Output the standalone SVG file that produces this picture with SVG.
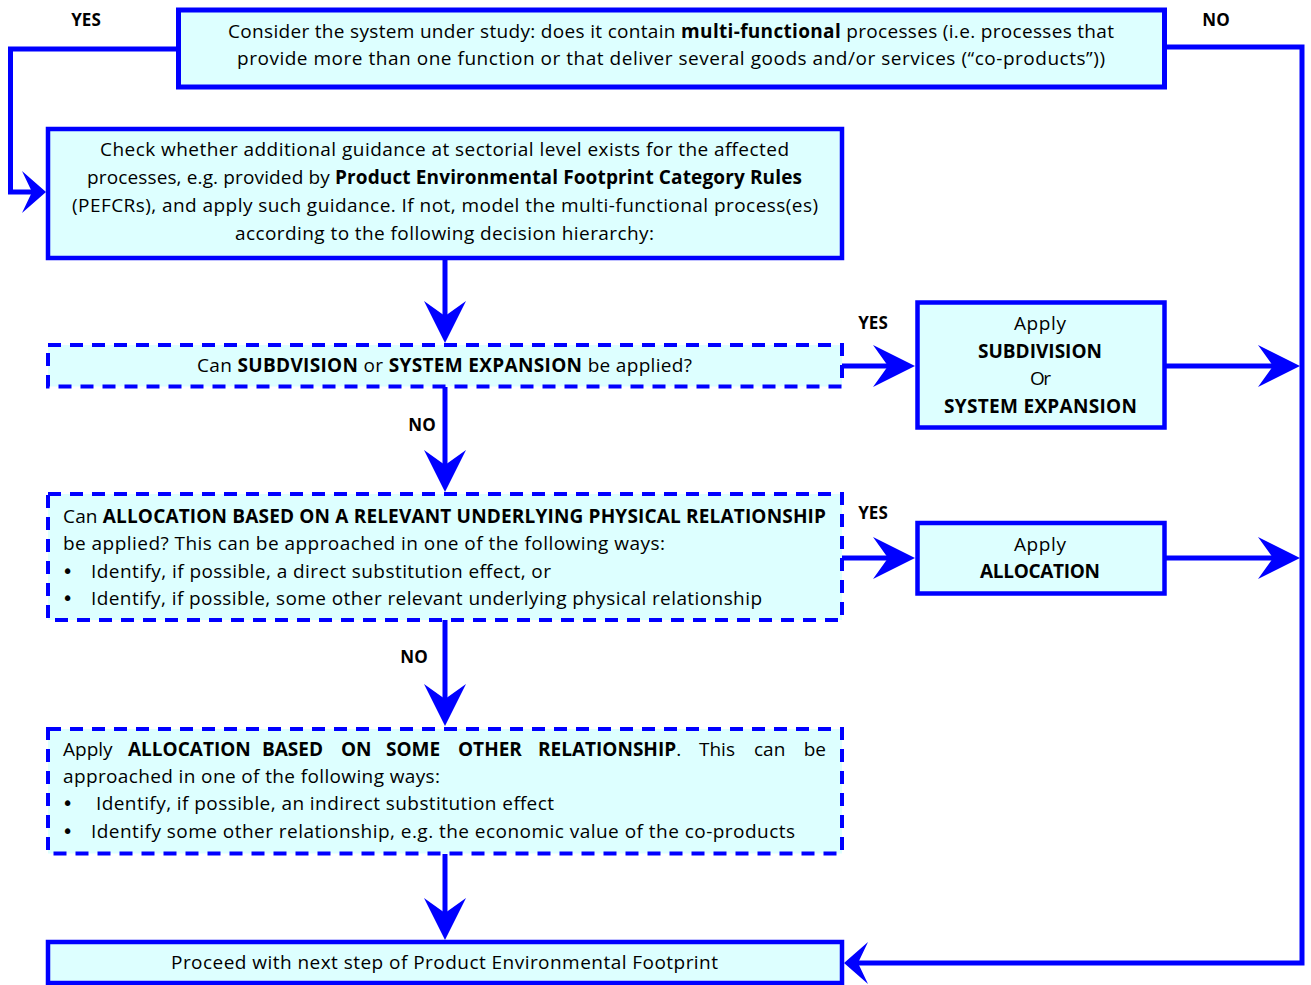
<svg xmlns="http://www.w3.org/2000/svg" width="1311" height="985" viewBox="0 0 1311 985">
<style>
.box{fill:#ddffff;stroke:#0000ff;stroke-width:4.5}
.b1{stroke-width:5}
.dash{fill:#ddffff;stroke:#0000ff;stroke-width:4;stroke-dasharray:13 9}
.t{font-family:"Open Sans","Noto Sans",sans-serif;font-size:19px;fill:#000}
.b{font-weight:bold}
.bul{font-family:"DejaVu Sans",sans-serif;font-size:19px;fill:#000}
.lbl{font-family:"Open Sans","Noto Sans",sans-serif;font-size:17px;font-weight:bold;fill:#000;text-anchor:middle}
.c{fill:none;stroke:#0000ff;stroke-width:5}
.cl{marker-end:url(#al)}
.cs{marker-end:url(#as)}
</style>
<defs>
<marker id="al" markerUnits="userSpaceOnUse" markerWidth="44" markerHeight="44" viewBox="0 -22 42 44" refX="15" refY="0" orient="auto" overflow="visible">
<path d="M0,-21 L42,0 L0,21 L15,0 Z" fill="#0000ff"/>
</marker>
<marker id="as" markerUnits="userSpaceOnUse" markerWidth="26" markerHeight="44" viewBox="0 -22 24 44" refX="10" refY="0" orient="auto" overflow="visible">
<path d="M0,-21 L24,0 L0,21 L10,0 Z" fill="#0000ff"/>
</marker>
</defs>

<g id="connectors">
<polyline class="c cs" points="178,49 10.5,49 10.5,192 32,192"/>
<polyline class="c cs" points="1165,47 1302,47 1302,963 858,963"/>
<line class="c cl" x1="445" y1="258" x2="445" y2="316"/>
<line class="c cl" x1="842" y1="366" x2="888" y2="366"/>
<line class="c cl" x1="1165" y1="366" x2="1273" y2="366"/>
<line class="c cl" x1="445" y1="387" x2="445" y2="465"/>
<line class="c cl" x1="842" y1="558" x2="888" y2="558"/>
<line class="c cl" x1="1165" y1="558" x2="1273" y2="558"/>
<line class="c cl" x1="445" y1="620" x2="445" y2="699"/>
<line class="c cl" x1="445" y1="854" x2="445" y2="913"/>
</g>

<g id="labels">
<text class="lbl" x="86" y="26">YES</text>
<text class="lbl" x="1216" y="26">NO</text>
<text class="lbl" x="873" y="329">YES</text>
<text class="lbl" x="422" y="431">NO</text>
<text class="lbl" x="873" y="519">YES</text>
<text class="lbl" x="414" y="663">NO</text>
</g>

<g id="n1">
<rect class="box b1" x="178.5" y="10" width="986" height="77"/>
<text class="t" x="228" y="38" textLength="886">Consider the system under study: does it contain <tspan class="b">multi-functional</tspan> processes (i.e. processes that</text>
<text class="t" x="237" y="65" textLength="868">provide more than one function or that deliver several goods and/or services (“co-products”))</text>
</g>

<g id="n2">
<rect class="box" x="48" y="129" width="794" height="129"/>
<text class="t" x="100" y="156" textLength="689">Check whether additional guidance at sectorial level exists for the affected</text>
<text class="t" x="87" y="184" textLength="715">processes, e.g. provided by <tspan class="b">Product Environmental Footprint Category Rules</tspan></text>
<text class="t" x="72" y="212" textLength="746">(PEFCRs), and apply such guidance. If not, model the multi-functional process(es)</text>
<text class="t" x="235" y="240" textLength="419">according to the following decision hierarchy:</text>
</g>

<g id="n3">
<rect class="dash" x="48" y="345" width="794" height="41.5"/>
<text class="t" x="197" y="372" textLength="495">Can <tspan class="b">SUBDVISION</tspan> or <tspan class="b">SYSTEM EXPANSION</tspan> be applied?</text>
</g>

<g id="n4">
<rect class="box" x="917.5" y="302.5" width="247" height="125"/>
<text class="t" x="1014" y="330" textLength="52">Apply</text>
<text class="t b" x="978" y="358" textLength="124">SUBDIVISION</text>
<text class="t" x="1030" y="385" textLength="21">Or</text>
<text class="t b" x="944" y="413" textLength="193">SYSTEM EXPANSION</text>
</g>

<g id="n5">
<rect class="dash" x="48" y="494" width="794" height="126"/>
<text class="t" x="63" y="523" textLength="763">Can <tspan class="b">ALLOCATION BASED ON A RELEVANT UNDERLYING PHYSICAL RELATIONSHIP</tspan></text>
<text class="t" x="63" y="550" textLength="602">be applied? This can be approached in one of the following ways:</text>
<text class="bul" x="62" y="578">•</text>
<text class="t" x="91" y="578" textLength="460">Identify, if possible, a direct substitution effect, or</text>
<text class="bul" x="62" y="605">•</text>
<text class="t" x="91" y="605" textLength="671">Identify, if possible, some other relevant underlying physical relationship</text>
</g>

<g id="n6">
<rect class="box" x="917.5" y="523" width="247" height="70.5"/>
<text class="t" x="1014" y="551" textLength="52">Apply</text>
<text class="t b" x="980" y="578" textLength="120">ALLOCATION</text>
</g>

<g id="n7">
<rect class="dash" x="48" y="729" width="794" height="124.5"/>
<text class="t" y="756"><tspan x="63">Apply</tspan><tspan class="b" x="128">ALLOCATION</tspan><tspan class="b" x="262">BASED</tspan><tspan class="b" x="341">ON</tspan><tspan class="b" x="386">SOME</tspan><tspan class="b" x="458">OTHER</tspan><tspan class="b" x="538">RELATIONSHIP</tspan><tspan>.</tspan><tspan x="699">This</tspan><tspan x="754">can</tspan></text>
<text class="t" x="826" y="756" text-anchor="end">be</text>
<text class="t" x="63" y="783" textLength="377">approached in one of the following ways:</text>
<text class="bul" x="62" y="810">•</text>
<text class="t" x="96" y="810" textLength="458">Identify, if possible, an indirect substitution effect</text>
<text class="bul" x="62" y="838">•</text>
<text class="t" x="91" y="838" textLength="704">Identify some other relationship, e.g. the economic value of the co-products</text>
</g>

<g id="n8">
<rect class="box" x="48" y="942" width="794" height="41"/>
<text class="t" x="171" y="969" textLength="547">Proceed with next step of Product Environmental Footprint</text>
</g>
</svg>
